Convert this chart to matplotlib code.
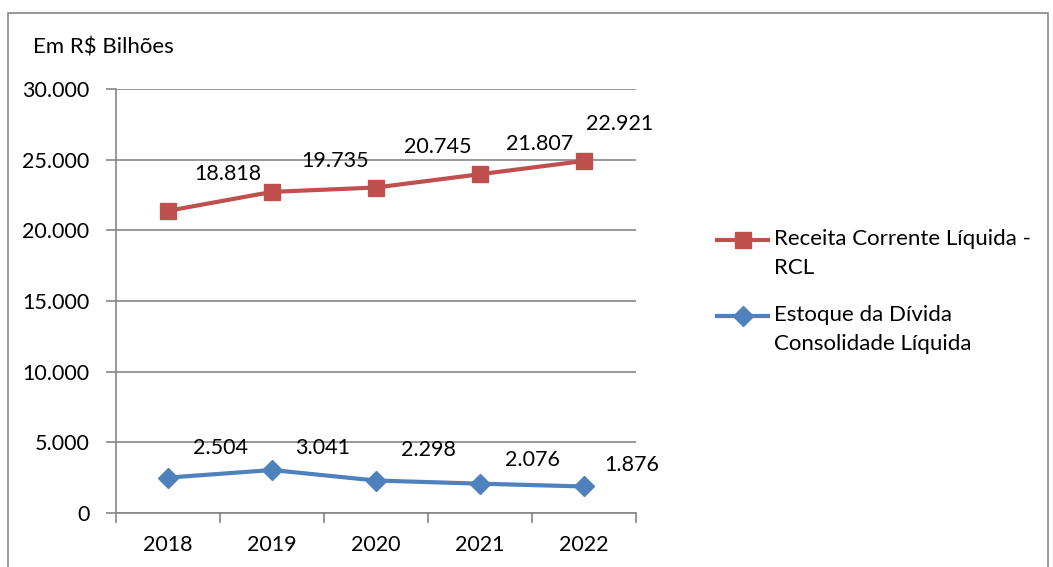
import matplotlib.pyplot as plt
from matplotlib.ticker import FuncFormatter, FixedLocator
from matplotlib.patches import Rectangle
from matplotlib.lines import Line2D

plt.rcParams['font.family'] = ['Lato', 'DejaVu Sans']

anos = ['2018', '2019', '2020', '2021', '2022']
rcl = [21380, 22720, 23030, 23970, 24910]
rcl_rotulos = ['18.818', '19.735', '20.745', '21.807', '22.921']
divida = [2504, 3041, 2298, 2076, 1876]
divida_rotulos = ['2.504', '3.041', '2.298', '2.076', '1.876']
legendas = ['Receita Corrente Líquida -\nRCL', 'Estoque da Dívida\nConsolidade Líquida']

# posicao dos rotulos (deslocamento em categorias, altura em R$)
rcl_rot_dx = [0.58, 0.61, 0.59, 0.57, 0.34]
rcl_rot_y = [23970, 24900, 25900, 26100, 27500]
div_rot_dx = [0.5, 0.49, 0.5, 0.5, 0.46]
div_rot_y = [4570, 4600, 4460, 3780, 3400]

vermelho = '#C0504D'
azul = '#4F81BD'
cinza = '#868686'
fs_num = 15.5
fs_txt = 16

W, H = 1053, 567
fig = plt.figure(figsize=(W / 100, H / 100), dpi=100)
ax = fig.add_axes([116 / W, 1 - 513 / H, 520 / W, 424 / H])

x = list(range(len(anos)))
estilos = [dict(color=vermelho, lw=3, marker='s', markersize=12),
           dict(color=azul, lw=3, marker='D', markersize=10)]
ax.plot(x, rcl, **estilos[0])
ax.plot(x, divida, **estilos[1])

for i in x:
    ax.text(i + rcl_rot_dx[i], rcl_rot_y[i], rcl_rotulos[i], ha='center', va='center', fontsize=fs_num)
    ax.text(i + div_rot_dx[i], div_rot_y[i], divida_rotulos[i], ha='center', va='center', fontsize=fs_num)

ax.set_xlim(-0.5, len(anos) - 0.5)
ax.set_ylim(0, 30000)
ax.set_yticks(range(0, 30001, 5000))
ax.yaxis.set_major_formatter(FuncFormatter(lambda v, p: f"{int(v):,}".replace(",", ".")))
ax.set_xticks(x)
ax.set_xticklabels(anos)
ax.xaxis.set_minor_locator(FixedLocator([i - 0.5 for i in range(len(anos) + 1)]))
ax.tick_params(axis='x', which='major', length=0, pad=16, labelsize=fs_num)
ax.tick_params(axis='x', which='minor', length=7, color=cinza, width=1.2)
ax.tick_params(axis='y', length=7, color=cinza, width=1.2, labelsize=fs_num, pad=12)

ax.grid(axis='y', color=cinza, lw=1.2)
ax.set_axisbelow(True)
for s in ['top', 'right']:
    ax.spines[s].set_visible(False)
for s in ['left', 'bottom']:
    ax.spines[s].set_color(cinza)
    ax.spines[s].set_linewidth(1.2)

fig.text(33 / W, 1 - 47 / H, 'Em R$ Bilhões', fontsize=fs_txt, va='center', ha='left')

# legenda manual: amostra alinhada com a primeira linha do texto
leg_y = [240, 316]
for k, y in enumerate(leg_y):
    yy = 1 - y / H
    est = dict(estilos[k])
    marker = est.pop('marker')
    ms = est.pop('markersize')
    fig.add_artist(Line2D([717 / W, 768 / W], [yy, yy], **est))
    fig.add_artist(Line2D([742.5 / W], [yy], marker=marker, markersize=ms, color=est['color'], lw=0))
    fig.text(774 / W, 1 - (y - 11) / H, legendas[k], fontsize=fs_txt, va='top', ha='left', linespacing=1.55)

fig.patches.append(Rectangle((8 / W, -0.1), 1040 / W, 1.1 - 13 / H, transform=fig.transFigure,
                             fill=False, edgecolor=cinza, lw=1.2))

plt.savefig('out.png', dpi=100)
